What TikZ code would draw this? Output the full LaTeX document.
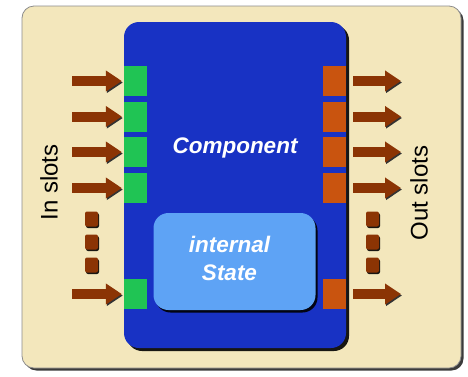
\documentclass[tikz,border=0pt]{standalone}
\usepackage{fontspec}
\setmainfont{Liberation Sans}
\usetikzlibrary{arrows.meta,shadows,positioning}
\definecolor{cream}{RGB}{243,231,188}
\definecolor{compblue}{RGB}{24,50,196}
\definecolor{stateblue}{RGB}{94,163,245}
\definecolor{ingreen}{RGB}{32,196,84}
\definecolor{outorange}{RGB}{201,84,15}
\definecolor{arrowbrown}{RGB}{139,52,4}
\tikzset{%
  panel/.style={draw=black!45, line width=0.8pt, fill=cream, rounded corners=12pt,
    drop shadow={shadow xshift=2.5pt, shadow yshift=-2.5pt, opacity=0.9, fill=black!85}},% background card
  component/.style={fill=compblue, rounded corners=15pt,
    drop shadow={shadow xshift=3pt, shadow yshift=-3pt, opacity=0.9, fill=black}},
  statebox/.style={fill=stateblue, rounded corners=15pt,
    drop shadow={shadow xshift=2pt, shadow yshift=-2.5pt, opacity=0.9, fill=black}},
  inslot/.style={fill=ingreen, minimum width=23pt, minimum height=30pt, inner sep=0pt},% in slot
  outslot/.style={inslot, fill=outorange},% out slot
  slotarrow/.style={draw=arrowbrown, line width=10pt, -{Triangle[length=16pt,width=20pt]},
    preaction={draw=black!80, transform canvas={shift={(1pt,-1.5pt)}}}},
  moredot/.style={fill=arrowbrown, rounded corners=2pt, minimum width=13pt, minimum height=15pt,
    inner sep=0pt, drop shadow={shadow xshift=1pt, shadow yshift=-1.5pt, opacity=0.9, fill=black}},
  boxtext/.style={text=white, font=\fontsize{22.5}{28}\selectfont\bfseries\itshape},
  sidetext/.style={rotate=90, font=\fontsize{24}{28}\selectfont}
}

\begin{document}
\begin{tikzpicture}[x=1pt, y=-1pt]
\useasboundingbox (0,0) rectangle (468,376);

\node[panel, minimum width=439pt, minimum height=362pt] (frame) at (241.5,187) {};
\node[component, minimum width=222pt, minimum height=326pt] (comp) at (235,185) {};
\node[boxtext, anchor=base] (compname) at (235,153) {Component};
\node[statebox, minimum width=162pt, minimum height=97pt] (state) at (234.5,261.5) {};
\node[boxtext, align=center] (statename) at (229.5,258) {internal\\State};

% slots on both sides, the last one below the dots
\foreach \i/\y in {1/81, 2/116.5, 3/152, 4/188, 5/294} {
  \node[inslot] (in\i) at (135.5,\y) {};
  \node[outslot] (out\i) at (334.5,\y) {};
  \coordinate (src\i) at (72,\y);
  \coordinate (dst\i) at (401,\y);
  \draw[slotarrow, shorten >=2pt] (src\i) -- (in\i.west);
  \draw[slotarrow, shorten <=7pt] (out\i.east) -- (dst\i);
}

\foreach \i/\y in {1/219, 2/242, 3/265} {
  \node[moredot] (ldot\i) at (91.5,\y) {};
  \node[moredot] (rdot\i) at (372.5,\y) {};
}

\node[sidetext] (insl) at (49,182.5) {In slots};
\node[sidetext] (outsl) at (419,193) {Out slots};
\end{tikzpicture}
\end{document}
